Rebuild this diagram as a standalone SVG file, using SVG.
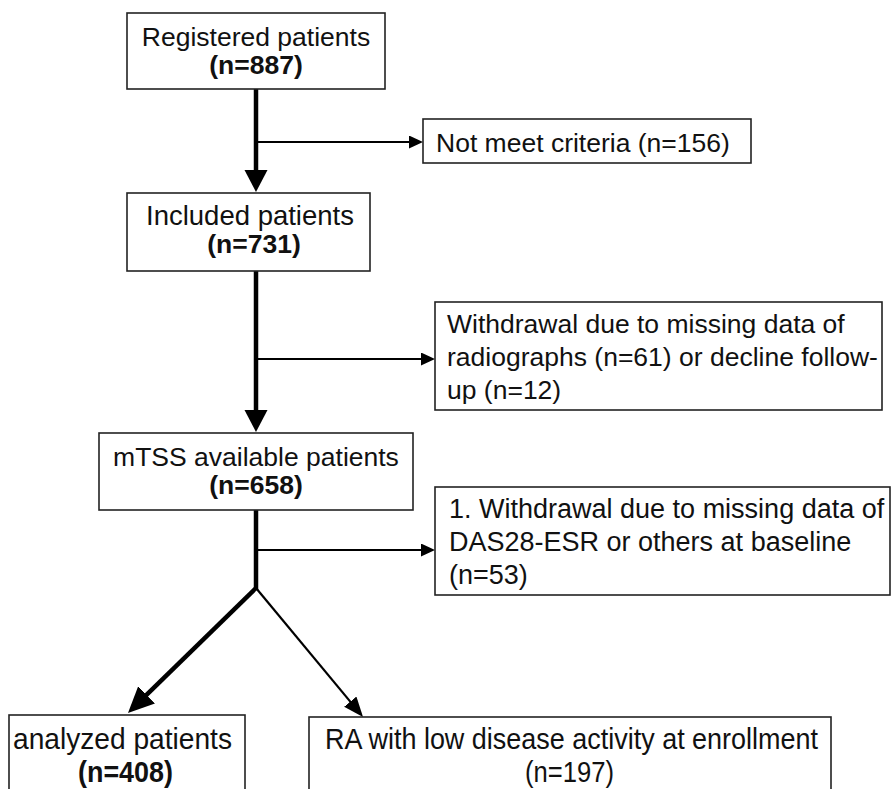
<svg xmlns="http://www.w3.org/2000/svg" width="893" height="789" viewBox="0 0 893 789">
<style>
.box{fill:#fff;stroke:#222;stroke-width:1.6}
.t{font-family:"Liberation Sans",Arial,sans-serif;font-size:26.5px;fill:#111}
.b{font-weight:bold}
.c{text-anchor:middle}
.n{font-size:29px}
.thick{stroke:#000;stroke-width:4.5;fill:none}
.thin{stroke:#000;stroke-width:2;fill:none}
.mid{stroke:#000;stroke-width:2.2;fill:none}
</style>
<defs>
<marker id="hBig" markerUnits="userSpaceOnUse" markerWidth="24" markerHeight="24" refX="14" refY="11.5" orient="auto"><path d="M0,0 L22,11.5 L0,23 z" fill="#000"/></marker>
<marker id="hSmall" markerUnits="userSpaceOnUse" markerWidth="16" markerHeight="14" refX="10" refY="6.5" orient="auto"><path d="M0,0 L14,6.5 L0,13 z" fill="#000"/></marker>
<marker id="hDiag" markerUnits="userSpaceOnUse" markerWidth="28" markerHeight="26" refX="18" refY="12" orient="auto"><path d="M0,0 L26,12 L0,24 z" fill="#000"/></marker>
<marker id="hDiagThin" markerUnits="userSpaceOnUse" markerWidth="22" markerHeight="18" refX="14" refY="8" orient="auto"><path d="M0,0 L20,8 L0,16 z" fill="#000"/></marker>
</defs>
<g id="connectors">
<line class="thick" x1="256" y1="89" x2="256" y2="184" marker-end="url(#hBig)"/>
<line class="thin" x1="256" y1="142" x2="419" y2="142" marker-end="url(#hSmall)"/>
<line class="thick" x1="256" y1="271" x2="256" y2="424" marker-end="url(#hBig)"/>
<line class="thin" x1="256" y1="359" x2="431" y2="359" marker-end="url(#hSmall)"/>
<line class="thick" x1="256" y1="510" x2="256" y2="590"/>
<line class="thin" x1="256" y1="550" x2="431" y2="550" marker-end="url(#hSmall)"/>
<line class="thick" x1="256" y1="588" x2="133.7" y2="707.4" marker-end="url(#hDiag)"/>
<line class="mid" x1="256" y1="588" x2="359.2" y2="712.4" marker-end="url(#hDiagThin)"/>
</g>
<g id="registered">
<rect class="box" x="127" y="13" width="258" height="76"/>
<text class="t c" x="256" y="46">Registered patients</text>
<text class="t b c" x="256" y="74">(n=887)</text>
</g>
<g id="notmeet">
<rect class="box" x="423" y="119" width="328" height="44"/>
<text class="t" x="436" y="152">Not meet criteria (n=156)</text>
</g>
<g id="included">
<rect class="box" x="127" y="193" width="243" height="78"/>
<text class="t c" x="250" y="225" style="font-size:27.5px">Included patients</text>
<text class="t b c" x="254" y="253">(n=731)</text>
</g>
<g id="withdrawal1">
<rect class="box" x="435" y="302" width="447" height="108"/>
<text class="t" x="447" y="333">Withdrawal due to missing data of</text>
<text class="t" x="447" y="366">radiographs (n=61) or decline follow-</text>
<text class="t" x="447" y="399">up (n=12)</text>
</g>
<g id="mtss">
<rect class="box" x="99" y="433" width="314" height="77"/>
<text class="t c" x="256" y="466">mTSS available patients</text>
<text class="t b c" x="256" y="494">(n=658)</text>
</g>
<g id="withdrawal2">
<rect class="box" x="435" y="487" width="455" height="108"/>
<text class="t" x="449" y="518" style="font-size:27px">1. Withdrawal due to missing data of</text>
<text class="t" x="449" y="551" style="font-size:27px">DAS28-ESR or others at baseline</text>
<text class="t" x="449" y="584" style="font-size:27px">(n=53)</text>
</g>
<g id="analyzed">
<rect class="box" x="9" y="715" width="236" height="90"/>
<text class="t n c" x="122.5" y="749" textLength="219" lengthAdjust="spacingAndGlyphs">analyzed patients</text>
<text class="t n b c" x="125.5" y="782" textLength="95" lengthAdjust="spacingAndGlyphs">(n=408)</text>
</g>
<g id="lowactivity">
<rect class="box" x="309" y="717" width="522" height="90"/>
<text class="t n c" x="571.5" y="749" textLength="493" lengthAdjust="spacingAndGlyphs">RA with low disease activity at enrollment</text>
<text class="t n c" x="569.5" y="782" textLength="89" lengthAdjust="spacingAndGlyphs">(n=197)</text>
</g>
</svg>
